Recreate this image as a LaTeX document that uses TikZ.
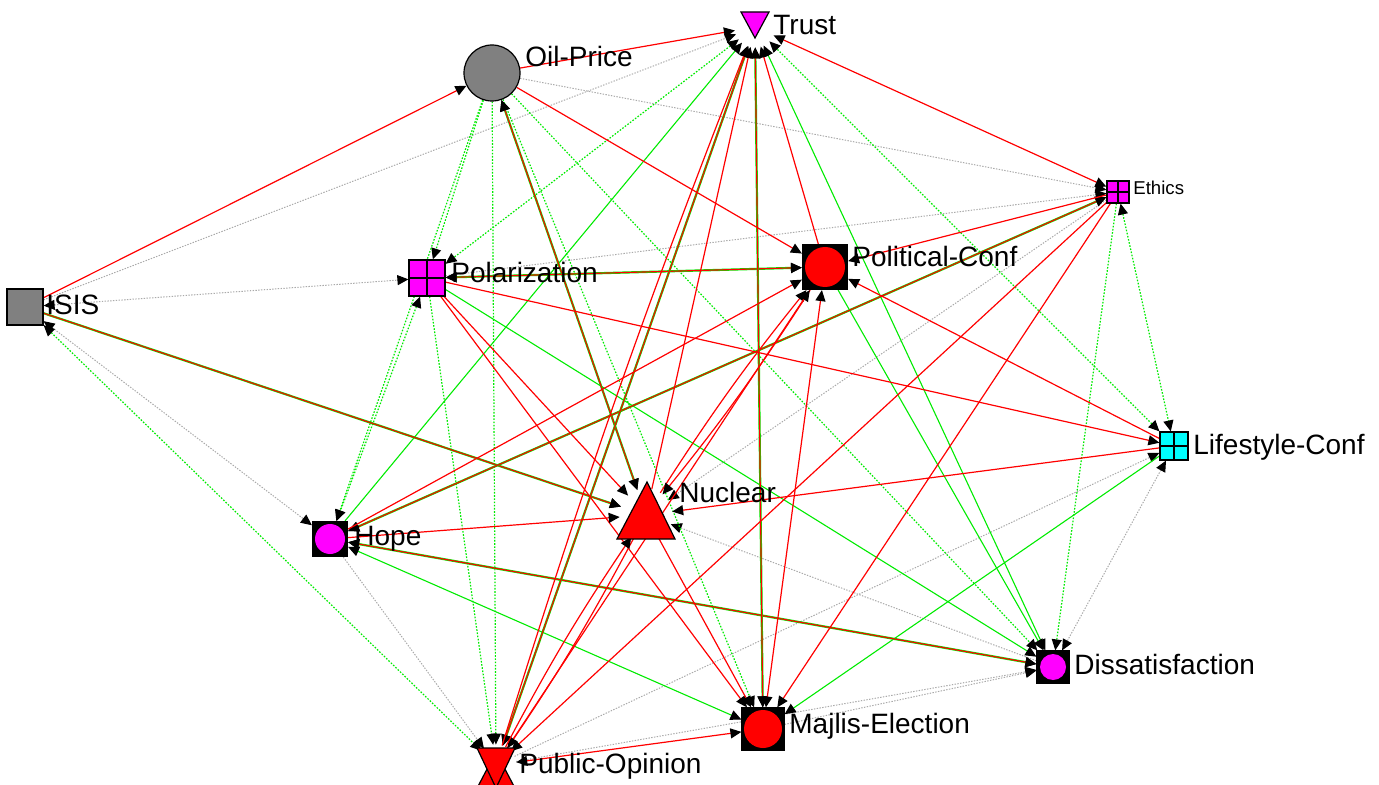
\documentclass[tikz,border=0pt]{standalone}
\usepackage{fontspec}
\setmainfont{Liberation Sans}
\usetikzlibrary{arrows.meta,backgrounds}
\definecolor{mag}{RGB}{255,0,255}
\definecolor{rd}{RGB}{255,0,0}
\definecolor{gr}{RGB}{0,235,0}
\definecolor{gy}{RGB}{170,170,170}
\definecolor{nodegray}{RGB}{128,128,128}
\definecolor{cy}{RGB}{0,255,255}
\tikzset{
  >={Triangle[color=black,length=5.5pt,width=5pt]},
  redE/.style={draw=rd,line width=0.6pt},
  grE/.style={draw=gr,line width=0.6pt,dash pattern=on 0.8pt off 0.8pt},
  grS/.style={draw=gr,line width=0.55pt},
  gyE/.style={draw=gy,line width=0.5pt,dash pattern=on 0.7pt off 0.7pt},
  rgE/.style={draw=rd,line width=0.55pt,preaction={draw=gr,line width=1.1pt}},
  anchorpt/.style={circle,minimum size=#1,inner sep=0pt},
  sq/.style={rectangle,draw=black,line width=0.6pt,minimum size=#1,inner sep=0pt},
  crossed/.style={path picture={\draw[black,line width=0.6pt]
     (path picture bounding box.north)--(path picture bounding box.south)
     (path picture bounding box.west)--(path picture bounding box.east);}},
  dotin/.style 2 args={path picture={\fill[#1] (path picture bounding box.center) circle (#2);}},
  lab/.style={anchor=base west,inner sep=0pt,font=\fontsize{14}{16}\selectfont},
  shapeline/.style={draw=black,line width=0.6pt},
}
\begin{document}
\begin{tikzpicture}[x=0.5pt,y=-0.5pt]
\useasboundingbox (0,0) rectangle (1379,785);

% nodes
\node[anchorpt=20pt] (T) at (755,27) {};
\node[circle,draw=black,fill=nodegray,minimum size=28pt,inner sep=0pt,line width=0.6pt] (O) at (492,73) {};
\node[sq=11pt,fill=mag,crossed] (E) at (1118,192) {};
\node[sq=18pt,fill=nodegray] (I) at (25,307) {};
\node[sq=18pt,fill=mag,crossed] (P) at (427,278) {};
\node[sq=22.5pt,fill=black,dotin={rd}{10pt}] (PC) at (825,267) {};
\node[sq=14pt,fill=cy,crossed] (L) at (1174,446) {};
\node[anchorpt=26pt] (N) at (646,515) {};
\node[sq=17.5pt,fill=black,dotin={mag}{7.5pt}] (H) at (330,539) {};
\node[sq=16pt,fill=black,dotin={mag}{6.5pt}] (D) at (1053,667) {};
\node[sq=21pt,fill=black,dotin={rd}{9.5pt}] (M) at (763,729) {};
\node[anchorpt=20pt] (PO) at (496,765) {};

% drawn shapes for the triangle nodes
\filldraw[fill=mag,shapeline] (741,12) -- (769,12) -- (755,38) -- cycle;
\filldraw[fill=rd,shapeline] (647,482) -- (675,539) -- (617,539) -- cycle;
\filldraw[fill=rd,shapeline] (496,752) -- (517,792) -- (475,792) -- cycle;
\filldraw[fill=rd,shapeline] (477,748) -- (515,748) -- (496,788) -- cycle;

% labels
\node[lab] (lT) at (773,35) {Trust};
\node[lab] (lO) at (525,67) {Oil-Price};
\node[lab,font=\fontsize{9.3}{11}\selectfont] (lE) at (1133,195) {Ethics};
\node[lab] (lI) at (46,315) {ISIS};
\node[lab] (lP) at (451,283) {Polarization};
\node[lab] (lPC) at (852,267) {Political-Conf};
\node[lab] (lL) at (1193,454) {Lifestyle-Conf};
\node[lab] (lN) at (679,502) {Nuclear};
\node[lab] (lH) at (354,545) {Hope};
\node[lab] (lD) at (1074,674) {Dissatisfaction};
\node[lab] (lM) at (789,733) {Majlis-Election};
\node[lab] (lPO) at (519,773) {Public-Opinion};

\begin{pgfonlayer}{background}
% grey dotted
\draw[gyE,->] (I) -- (T);
\draw[gyE,<->] (I) -- (P);
\draw[gyE,->] (O) -- (E);
\draw[gyE,->] (P) -- (E);
\draw[gyE,<->] (I) -- (H);
\draw[gyE,->] (H) -- (PO);
\draw[gyE,->] (D) -- (N);
\draw[gyE,->] (E) -- (N);
\draw[gyE,<->] (L) -- (D);
\draw[gyE,->] (M) -- (D);
\draw[gyE,->] (PO) -- (L);
\draw[gyE,->] (PO) -- (D);
% green dotted
\draw[grE,<->] (I) -- (PO);
\draw[grE,->] (O) -- (P);
\draw[grE,->] (O) -- (H);
\draw[grE,->] (O) -- (PO);
\draw[grE,->] (O) -- (D);
\draw[grE,->] (O) -- (M);
\draw[grE,<->] (T) -- (P);
\draw[grE,<->] (L) -- (T);
\draw[grE,<->] (E) -- (L);
\draw[grE,->] (E) -- (D);
\draw[grE,<->] (P) -- (H);
\draw[grE,->] (P) -- (PO);
% green solid
\draw[grS,->] (H) -- (T);
\draw[grS,<->] (T) -- (D);
\draw[grS,->] (PC) -- (D);
\draw[grS,->] (P) -- (D);
\draw[grS,->] (L) -- (M);
\draw[grS,<->] (H) -- (M);
% red-green
\draw[rgE,->] (I) -- (N);
\draw[rgE,<->] (O) -- (N);
\draw[rgE,<->] (P) -- (PC);
\draw[rgE,<->] (H) -- (E);
\draw[rgE,<->] (H) -- (D);
\draw[rgE,<->] (T) -- (PO);
\draw[rgE,<->] (T) -- (M);
% red
\draw[redE,->] (I) -- (O);
\draw[redE,->] (O) -- (T);
\draw[redE,->] (O) -- (PC);
\draw[redE,<->] (T) -- (E);
\draw[redE,->] (N) -- (T);
\draw[redE,->] (PC) -- (T);
\draw[redE,->] (PO) to[bend left=2] (T);
\draw[redE,->] (E) -- (PC);
\draw[redE,->] (E) -- (PO);
\draw[redE,->] (E) -- (M);
\draw[redE,->] (L) -- (PC);
\draw[redE,->] (H) -- (PC);
\draw[redE,->] (N) to[bend left=3] (PC);
\draw[redE,->] (PC) to[bend left=3] (N);
\draw[redE,->] (PO) -- (PC);
\draw[redE,<->] (M) -- (PC);
\draw[redE,->] (P) -- (L);
\draw[redE,->] (P) -- (N);
\draw[redE,->] (P) -- (M);
\draw[redE,->] (L) -- (N);
\draw[redE,->] (H) -- (N);
\draw[redE,->] (N) to[bend left=3] (PO);
\draw[redE,->] (PO) to[bend left=3] (N);
\draw[redE,->] (N) -- (M);
\draw[redE,<->] (PO) -- (M);
\end{pgfonlayer}
\end{tikzpicture}
\end{document}
